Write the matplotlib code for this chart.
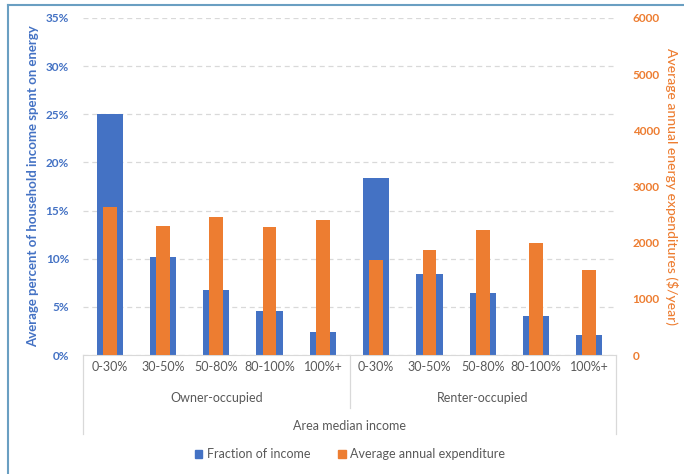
import matplotlib.pyplot as plt
import matplotlib.lines as mlines
import matplotlib.patches as mpatches
import numpy as np

plt.rcParams['font.family'] = ['Lato', 'DejaVu Sans']

groups = ["Owner-occupied", "Renter-occupied"]
ami_bins = ["0-30%", "30-50%", "50-80%", "80-100%", "100%+"]
fraction = [25.0, 10.2, 6.8, 4.6, 2.4, 18.4, 8.4, 6.4, 4.0, 2.1]   # percent of income
expenditure = [2630, 2300, 2450, 2280, 2400, 1690, 1870, 2230, 2000, 1520]  # $/year

blue = "#4472C4"
orange = "#ED7D31"
gray = "#595959"
linec = "#D9D9D9"

fig = plt.figure(figsize=(6.84, 4.74), dpi=100)
ax = fig.add_axes([83/684, 1-355/474, 533/684, 337/474])
ax2 = ax.twinx()

x = np.arange(len(fraction))
ax.bar(x, fraction, width=0.49, color=blue, zorder=2)
ax2.bar(x, expenditure, width=0.26, color=orange, zorder=2)

ax.set_xlim(-0.5, len(x) - 0.5)
ax.set_ylim(0, 35)
ax2.set_ylim(0, 6000)
ax.set_yticks(np.arange(0, 36, 5))
ax.set_yticklabels([f"{v}%" for v in range(0, 36, 5)])
ax2.set_yticks(np.arange(0, 6001, 1000))

for a in (ax, ax2):
    for s in a.spines.values():
        s.set_visible(False)
ax.spines['bottom'].set_visible(True)
ax.spines['bottom'].set_color(linec)

ax.yaxis.grid(True, linestyle=(0, (4, 3)), color=linec, linewidth=0.9, zorder=0)
ax.set_axisbelow(True)
ax.tick_params(axis='y', length=0, pad=10, labelcolor=blue, labelsize=8.5)
ax2.tick_params(axis='y', length=0, pad=12, labelcolor=orange, labelsize=8.5)
for lab in ax.get_yticklabels() + ax2.get_yticklabels():
    lab.set_fontweight('bold')
ax.set_xticks([])

ax.set_ylabel("Average percent of household income spent on energy",
              color=blue, fontsize=9.5, fontweight='bold', labelpad=5)
ax2.set_ylabel("Average annual energy expenditures ($/year)",
               color=orange, fontsize=10, fontweight='medium', rotation=270, labelpad=13)

# multi-level category axis
trans = ax.get_xaxis_transform()
for i in x:
    ax.text(i, -0.036, ami_bins[i % len(ami_bins)], transform=trans,
            ha='center', va='center', fontsize=9, color=gray)
for g, name in enumerate(groups):
    ax.text(g * 5 + 2, -0.128, name, transform=trans,
            ha='center', va='center', fontsize=9, color=gray)
ax.text(4.5, -0.211, "Area median income", transform=trans,
        ha='center', va='center', fontsize=9, color=gray)
for xv, ybot in [(-0.5, -0.234), (4.5, -0.157), (9.5, -0.234)]:
    ax.add_line(mlines.Line2D([xv, xv], [0, ybot], transform=trans,
                              color=linec, linewidth=0.9, clip_on=False))

handles = [mpatches.Patch(color=blue, label="Fraction of income"),
           mpatches.Patch(color=orange, label="Average annual expenditure")]
fig.legend(handles=handles, loc='center', bbox_to_anchor=(350/684, 1-454/474),
           ncol=2, frameon=False, fontsize=9, labelcolor=gray,
           handlelength=0.6, handleheight=0.6, columnspacing=2.2, handletextpad=0.4)

# outer frame of the screenshot
frame_c = "#6A9FC2"
fig.add_artist(mlines.Line2D([8/684, 8/684], [0, 1-4.5/474], transform=fig.transFigure,
                             color=frame_c, linewidth=1.5))
fig.add_artist(mlines.Line2D([8/684, 1], [1-4.5/474, 1-4.5/474], transform=fig.transFigure,
                             color=frame_c, linewidth=1.5))

fig.savefig("out.png", dpi=100)
